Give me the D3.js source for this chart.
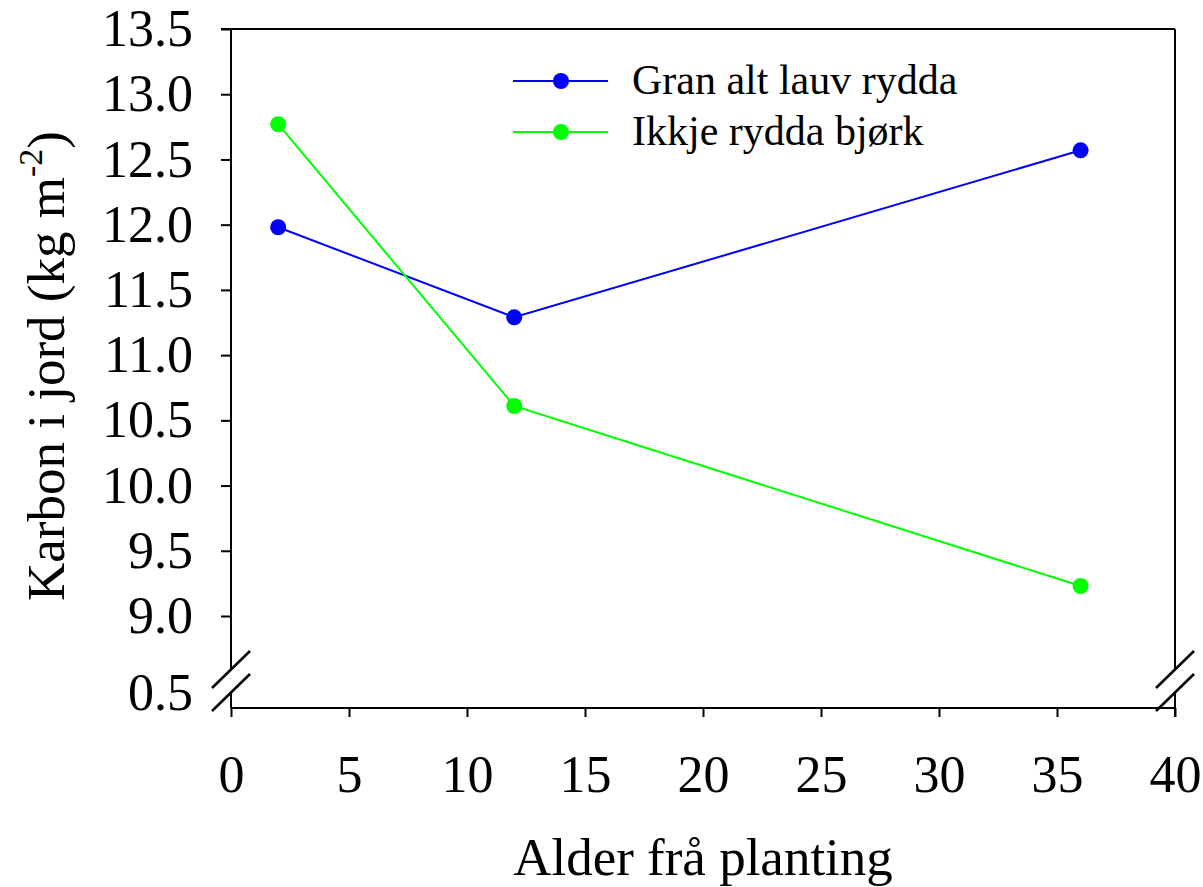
<!DOCTYPE html>
<html>
<head>
<meta charset="utf-8">
<script src="https://cdn.jsdelivr.net/npm/d3@7"></script>
<style>
  body { margin: 0; background: #fff; }
  svg text { font-family: "Times New Roman", "Liberation Serif", Tinos, "DejaVu Serif", serif !important; fill: #000; }
</style>
</head>
<body>
<svg></svg>
<script>
const width = 1203;
const height = 887;

// Données
const ages = [2, 12, 36];
const granValues = [11.98, 11.29, 12.57];
const bjorkValues = [12.77, 10.61, 9.23];
const seriesNames = ["Gran alt lauv rydda", "Ikkje rydda bjørk"];
const seriesColors = ["#0000ff", "#00ff00"];
const xTicks = [0, 5, 10, 15, 20, 25, 30, 35, 40];
const yTicks = [9.0, 9.5, 10.0, 10.5, 11.0, 11.5, 12.0, 12.5, 13.0, 13.5];
const yLowTicks = [0.5];

const plotLeft = 231, plotRight = 1175, plotTop = 29, plotBottom = 708;

const svg = d3.select("svg")
  .attr("width", width)
  .attr("height", height);

// Échelles
const x = d3.scaleLinear().domain([0, 40]).range([plotLeft, plotRight]);
const y = d3.scaleLinear().domain([9, 13.5]).range([616, plotTop]);
const yLow = d3.scaleLinear().domain([0.38, 0.5]).range([plotBottom, 693]);

// Axe Y (partie haute)
const yAxis = svg.append("g")
  .attr("transform", `translate(${plotLeft},0)`)
  .call(d3.axisLeft(y).tickValues(yTicks).tickFormat(d3.format(".1f")).tickSize(10).tickPadding(28));
yAxis.select(".domain").remove();
yAxis.selectAll(".tick line").attr("stroke", "#000").attr("stroke-width", 2);
yAxis.selectAll(".tick text").attr("font-size", 52);

// Axe Y (partie basse, seulement l'étiquette)
const yLowAxis = svg.append("g")
  .attr("transform", `translate(${plotLeft},0)`)
  .call(d3.axisLeft(yLow).tickValues(yLowTicks).tickFormat(d3.format(".1f")).tickSize(0).tickPadding(38));
yLowAxis.select(".domain").remove();
yLowAxis.selectAll(".tick text").attr("font-size", 52);

// Axe X
const xAxis = svg.append("g")
  .attr("transform", `translate(0,${plotBottom})`)
  .call(d3.axisBottom(x).tickValues(xTicks).tickSize(9).tickPadding(38));
xAxis.select(".domain").remove();
xAxis.selectAll(".tick line").attr("stroke", "#000").attr("stroke-width", 2);
xAxis.selectAll(".tick text").attr("font-size", 52);

// Cadre
const frame = svg.append("g").attr("stroke", "#000").attr("stroke-width", 2).attr("fill", "none");
frame.append("line").attr("x1", plotLeft - 10).attr("x2", plotRight).attr("y1", plotTop).attr("y2", plotTop);
frame.append("line").attr("x1", plotLeft).attr("x2", plotRight).attr("y1", plotBottom).attr("y2", plotBottom);
frame.append("line").attr("x1", plotLeft).attr("x2", plotLeft).attr("y1", plotTop).attr("y2", 669);
frame.append("line").attr("x1", plotLeft).attr("x2", plotLeft).attr("y1", 692).attr("y2", plotBottom);
frame.append("line").attr("x1", plotRight).attr("x2", plotRight).attr("y1", plotTop).attr("y2", 669);
frame.append("line").attr("x1", plotRight).attr("x2", plotRight).attr("y1", 692).attr("y2", plotBottom + 9);

// Coupures d'axe
[plotLeft, plotRight].forEach(cx => {
  [[688, 651], [711, 674]].forEach(([ya, yb]) => {
    frame.append("line")
      .attr("x1", cx - 19).attr("y1", ya)
      .attr("x2", cx + 19).attr("y2", yb)
      .attr("stroke-width", 2.5);
  });
});

// Séries
const line = d3.line().x(d => x(d[0])).y(d => y(d[1]));
[granValues, bjorkValues].forEach((vals, i) => {
  const pts = ages.map((a, j) => [a, vals[j]]);
  svg.append("path")
    .datum(pts)
    .attr("d", line)
    .attr("fill", "none")
    .attr("stroke", seriesColors[i])
    .attr("stroke-width", 2);
  svg.selectAll(null)
    .data(pts)
    .enter()
    .append("circle")
    .attr("cx", d => x(d[0]))
    .attr("cy", d => y(d[1]))
    .attr("r", 8)
    .attr("fill", seriesColors[i]);
});

// Légende
const legend = svg.append("g");
seriesNames.forEach((name, i) => {
  const ly = 81 + i * 51;
  legend.append("line")
    .attr("x1", 513).attr("x2", 608).attr("y1", ly).attr("y2", ly)
    .attr("stroke", seriesColors[i]).attr("stroke-width", 2);
  legend.append("circle")
    .attr("cx", 561).attr("cy", ly).attr("r", 8).attr("fill", seriesColors[i]);
  legend.append("text")
    .attr("x", 632).attr("y", ly + 13)
    .attr("font-size", 42)
    .text(name);
});

// Titres des axes
svg.append("text")
  .attr("x", (plotLeft + plotRight) / 2)
  .attr("y", 875)
  .attr("text-anchor", "middle")
  .attr("font-size", 53)
  .text("Alder frå planting");

const yTitle = svg.append("text")
  .attr("transform", `translate(64,366) rotate(-90)`)
  .attr("text-anchor", "middle")
  .attr("font-size", 53);
yTitle.append("tspan").text("Karbon i jord (kg m");
yTitle.append("tspan").attr("font-size", 34).attr("dy", -22).text("-2");
yTitle.append("tspan").attr("dy", 22).text(")");
</script>
</body>
</html>
